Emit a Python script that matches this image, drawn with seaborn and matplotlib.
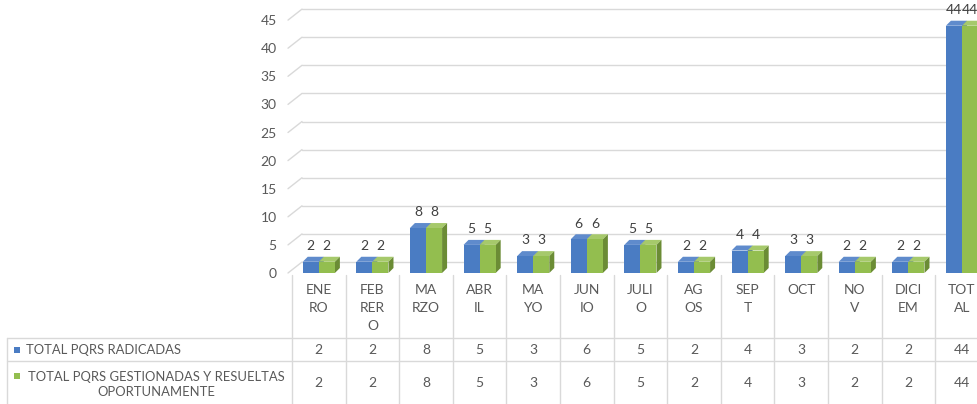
import pandas as pd
import matplotlib
matplotlib.use("Agg")
import matplotlib.pyplot as plt
import matplotlib.transforms as mtransforms
from matplotlib.patches import Polygon, Rectangle
from matplotlib.lines import Line2D
import seaborn as sns

# data
meses = ["ENERO", "FEBRERO", "MARZO", "ABRIL", "MAYO", "JUNIO", "JULIO",
         "AGOS", "SEPT", "OCT", "NOV", "DICIEM", "TOTAL"]
etiquetas = ["ENE\nRO", "FEB\nRER\nO", "MA\nRZO", "ABR\nIL", "MA\nYO", "JUN\nIO",
             "JULI\nO", "AG\nOS", "SEP\nT", "OCT", "NO\nV", "DICI\nEM", "TOT\nAL"]
radicadas = [2, 2, 8, 5, 3, 6, 5, 2, 4, 3, 2, 2, 44]
gestionadas = [2, 2, 8, 5, 3, 6, 5, 2, 4, 3, 2, 2, 44]
series = ["TOTAL PQRS RADICADAS", "TOTAL PQRS GESTIONADAS Y RESUELTAS\nOPORTUNAMENTE"]

azul = "#4a7cc3"
verde = "#93be4f"
azul_top, azul_side = "#5f8bcc", "#2f5a9a"
verde_top, verde_side = "#a6c96b", "#6b8c35"
gris_txt = "#595959"
gris_lin = "#d9d9d9"

sns.set_style("white")
plt.rcParams["font.family"] = ["Lato", "DejaVu Sans"]
plt.rcParams["font.size"] = 10

W, H = 977, 404
col_px = 53.6   # pixel width of one category
px_y = 5.62     # pixels per unit on the value axis

fig = plt.figure(figsize=(W / 100, H / 100), dpi=100)
ax = fig.add_axes([292 / W, (H - 273) / H, (W - 292) / W, 273 / H])

df = pd.DataFrame({
    "mes": meses * 2,
    "valor": radicadas + gestionadas,
    "serie": [series[0]] * len(meses) + [series[1]] * len(meses),
})
sns.barplot(data=df, x="mes", y="valor", hue="serie", palette=[azul, verde],
            width=0.6, saturation=1, legend=False, ax=ax, zorder=4,
            linewidth=0, edgecolor="none")

ax.set_xlim(-0.5, -0.5 + (W - 292) / col_px)
ax.set_ylim(0, 273 / px_y)

# fake 3D depth on each bar
dx, dy = 5 / col_px, 5 / px_y
caras = {azul: (azul_top, azul_side), verde: (verde_top, verde_side)}
for c, (top_c, side_c) in zip(ax.containers, [caras[azul], caras[verde]]):
    for bar in c:
        x0, w, h = bar.get_x(), bar.get_width(), bar.get_height()
        ax.add_patch(Polygon([(x0, h), (x0 + dx, h + dy), (x0 + w + dx, h + dy), (x0 + w, h)],
                             closed=True, color=top_c, zorder=3.5, lw=0))
        ax.add_patch(Polygon([(x0 + w, 0), (x0 + w + dx, dy), (x0 + w + dx, h + dy), (x0 + w, h)],
                             closed=True, color=side_c, zorder=3.5, lw=0))

for c in ax.containers:
    ax.bar_label(c, padding=7, color="#404040", fontsize=10, clip_on=False)

# gridlines on the back wall with slanted left edge
gx, gy = 14 / col_px, 11 / px_y
x_front = -0.5 - 4 / col_px
for v in range(0, 50, 5):
    ax.plot([x_front, x_front + gx], [v, v + gy], color=gris_lin, lw=1, zorder=1, clip_on=False)
    ax.plot([x_front + gx, 13], [v + gy, v + gy], color=gris_lin, lw=1, zorder=1)

ax.set_yticks(range(0, 50, 5))
ax.set_xticks(range(len(meses)), labels=etiquetas)
for lbl in ax.get_xticklabels():
    lbl.set_linespacing(1.6)
ax.tick_params(axis="y", length=0, pad=11, labelcolor=gris_txt, labelsize=10)
ax.tick_params(axis="x", length=0, pad=8, labelcolor=gris_txt, labelsize=10)
ax.set_xlabel("")
ax.set_ylabel("")
sns.despine(ax=ax, left=True, bottom=True)

# data table under the chart
fy = lambda y: 1 - y / H
trans = mtransforms.blended_transform_factory(ax.transData, fig.transFigure)
for k in range(len(meses) + 1):
    ax.plot([k - 0.5, k - 0.5], [fy(275), fy(404)], color=gris_lin, lw=1,
            transform=trans, clip_on=False)
for y in [338, 361]:
    fig.add_artist(Line2D([7 / W, 1], [fy(y), fy(y)], color=gris_lin, lw=1))
fig.add_artist(Line2D([7 / W, 7 / W], [fy(338), fy(404)], color=gris_lin, lw=1))

for i in range(len(meses)):
    ax.text(i, fy(350), str(radicadas[i]), transform=trans, ha="center", va="center",
            color=gris_txt, fontsize=10)
    ax.text(i, fy(383), str(gestionadas[i]), transform=trans, ha="center", va="center",
            color=gris_txt, fontsize=10)

fig.add_artist(Rectangle((14 / W, fy(353)), 6 / W, 6 / H, color=azul, lw=0))
fig.add_artist(Rectangle((14 / W, fy(379)), 6 / W, 6 / H, color=verde, lw=0))
fig.text(26 / W, fy(350), series[0], ha="left", va="center", color=gris_txt, fontsize=9.4)
fig.text(156 / W, fy(384.5), series[1], ha="center", va="center", color=gris_txt,
         fontsize=9.4, linespacing=1.35, multialignment="center")

fig.savefig("out.png", dpi=100, facecolor="white")
